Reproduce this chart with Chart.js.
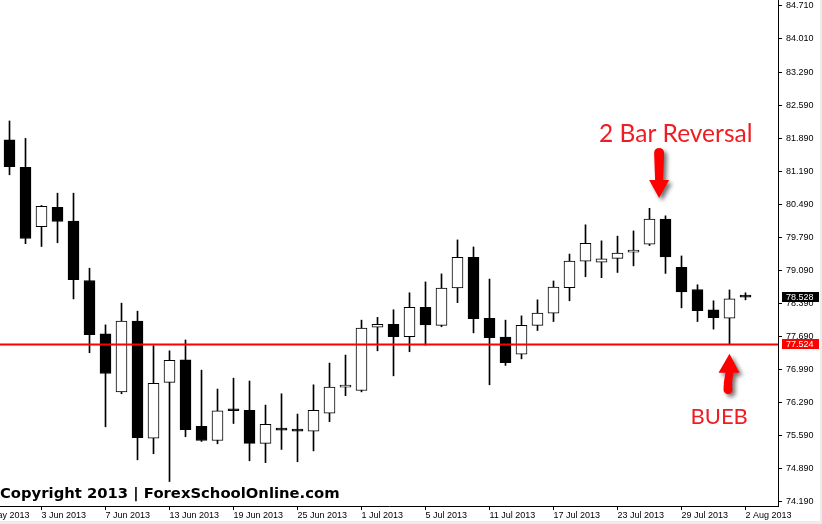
<!DOCTYPE html>
<html>
<head>
<meta charset="utf-8">
<script src="https://cdn.jsdelivr.net/npm/chart.js@4.4.0/dist/chart.umd.min.js"></script>
<style>
html,body{margin:0;padding:0;background:#ececec;}
#wrap{width:820px;height:521px;background:#fff;}
canvas{display:block;}
</style>
</head>
<body>
<div id="wrap"><canvas id="chart" width="820" height="521"></canvas></div>
<script>
// daily candles, 30 May - 2 Aug 2013
var dates=['30 May 2013','31 May 2013','3 Jun 2013','4 Jun 2013','5 Jun 2013','6 Jun 2013','7 Jun 2013',
'10 Jun 2013','11 Jun 2013','12 Jun 2013','13 Jun 2013','14 Jun 2013','17 Jun 2013','18 Jun 2013','19 Jun 2013',
'20 Jun 2013','21 Jun 2013','24 Jun 2013','25 Jun 2013','26 Jun 2013','27 Jun 2013','28 Jun 2013','1 Jul 2013',
'2 Jul 2013','3 Jul 2013','4 Jul 2013','5 Jul 2013','8 Jul 2013','9 Jul 2013','10 Jul 2013','11 Jul 2013',
'12 Jul 2013','15 Jul 2013','16 Jul 2013','17 Jul 2013','18 Jul 2013','19 Jul 2013','22 Jul 2013','23 Jul 2013',
'24 Jul 2013','25 Jul 2013','26 Jul 2013','29 Jul 2013','30 Jul 2013','31 Jul 2013','1 Aug 2013','2 Aug 2013'];
var opens=[81.86,81.28,80.02,80.43,80.14,78.88,77.75,76.52,78.02,75.54,76.72,77.20,75.79,75.49,76.13,76.13,75.43,
75.73,75.70,75.69,76.07,76.62,76.55,77.89,77.95,77.69,78.31,77.93,78.72,79.37,78.08,77.68,77.32,77.93,78.19,78.73,
79.29,79.27,79.35,79.48,79.65,80.18,79.16,78.69,78.26,78.08,78.53];
var highs=[82.26,81.89,80.47,80.73,80.73,79.14,77.94,78.40,78.23,77.50,77.39,77.62,76.98,76.58,76.81,76.75,76.24,
76.48,76.05,76.67,77.13,77.30,78.04,78.10,78.26,78.62,78.85,79.02,79.74,79.59,78.91,78.04,78.13,78.47,78.87,79.44,
80.06,79.72,79.82,79.93,80.41,80.25,79.40,78.79,78.45,78.68,78.62];
var lows=[81.12,79.66,79.60,79.68,78.49,77.35,75.78,76.48,75.08,75.21,74.62,75.57,75.47,75.42,75.85,75.06,75.02,
75.30,75.04,75.27,75.89,76.44,76.52,77.39,76.86,77.37,77.51,77.90,78.41,77.77,76.67,77.08,77.22,77.82,78.01,78.45,
78.96,78.94,79.05,79.19,79.62,79.03,78.30,78.01,77.85,77.524,78.47];
var closes=[81.29,79.77,80.45,80.13,78.90,77.73,76.91,78.02,75.55,76.70,77.19,75.72,75.49,76.12,76.12,75.43,75.83,
75.71,75.69,76.13,76.62,76.66,77.87,77.95,77.69,78.31,77.94,78.72,79.37,78.07,77.67,77.14,77.93,78.19,78.74,79.29,
79.67,79.34,79.46,79.48,80.18,79.38,78.64,78.24,78.09,78.49,78.528];

var priceTicks=[84.71,84.01,83.29,82.59,81.89,81.19,80.49,79.79,79.09,78.39,77.69,76.99,76.29,75.59,74.89,74.19];
// x tick positions (candle index) and their labels; the first one sits just off the left edge
var dateTicks=[-2,2,6,10,14,18,22,26,30,34,38,42,46];
var dateTickLabels=['28 May 2013','3 Jun 2013','7 Jun 2013','13 Jun 2013','19 Jun 2013','25 Jun 2013','1 Jul 2013',
'5 Jul 2013','11 Jul 2013','17 Jul 2013','23 Jul 2013','29 Jul 2013','2 Aug 2013'];
var supportLevel=77.524;
var lastPrice=78.528;

var xMin=-0.59375, xMax=48.03125;
var yMin=74.102, yMax=84.823;

// annotation anchors (candle index, price)
var reversalTip=[40.6,80.63];
var buebTip=[45,77.33];

var wicks=[], bodies=[], bodyFill=[];
for(var i=0;i<dates.length;i++){
	wicks.push({x:i, y:[lows[i], highs[i]]});
	bodies.push({x:i, y:[opens[i], closes[i]]});
	bodyFill.push(closes[i]>=opens[i] ? '#ffffff' : '#000000');
}

function priceBox(c, area, ys, val, bg){
	var y=Math.round(ys.getPixelForValue(val));
	c.fillStyle=bg;
	c.fillRect(area.right+4, y-5, 37, 10);
	c.fillStyle='#fff';
	c.font='9px "Liberation Sans"';
	c.textBaseline='middle';
	c.textAlign='left';
	c.fillText(val.toFixed(3), area.right+8, y+0.5);
}

function downArrow(c, tx, ty){
	c.beginPath();
	c.moveTo(tx-5, ty-45);
	c.arc(tx, ty-45, 5, Math.PI, 0);
	c.lineTo(tx+4, ty-18);
	c.lineTo(tx+10, ty-18);
	c.lineTo(tx, ty);
	c.lineTo(tx-10, ty-18);
	c.lineTo(tx-4, ty-18);
	c.closePath();
	c.fill();
}

function upArrow(c, tx, ty){
	c.beginPath();
	c.moveTo(tx, ty);
	c.lineTo(tx+10, ty+19);
	c.lineTo(tx+4, ty+19);
	c.quadraticCurveTo(tx+2, ty+29, tx+3, ty+36);
	c.arc(tx-1.5, ty+36, 4.5, 0, Math.PI);
	c.quadraticCurveTo(tx-6, ty+28, tx-4, ty+19);
	c.lineTo(tx-11, ty+19);
	c.closePath();
	c.fill();
}

var overlay={
	id:'overlay',
	afterDraw:function(chart){
		var c=chart.ctx, a=chart.chartArea, xs=chart.scales.x, ys=chart.scales.y;
		c.save();
		priceBox(c, a, ys, lastPrice, '#000000');
		priceBox(c, a, ys, supportLevel, '#ff0000');

		c.fillStyle='#000';
		c.font='bold 14.8px "DejaVu Sans"';
		c.textAlign='left';
		c.textBaseline='alphabetic';
		c.fillText('Copyright 2013 | ForexSchoolOnline.com', 0, 498);

		var t1x=xs.getPixelForValue(reversalTip[0]), t1y=ys.getPixelForValue(reversalTip[1]);
		var t2x=xs.getPixelForValue(buebTip[0]), t2y=ys.getPixelForValue(buebTip[1]);
		c.shadowColor='rgba(0,0,0,0.55)';
		c.shadowBlur=4;
		c.shadowOffsetX=3;
		c.shadowOffsetY=3;
		c.fillStyle='#ff0000';
		downArrow(c, t1x, t1y);
		upArrow(c, t2x, t2y);
		c.shadowColor='transparent';

		c.fillStyle='#ee1d23';
		c.font='24.5px Lato';
		c.fillText('2 Bar Reversal', t1x-60, t1y-56);
		c.font='22px Lato';
		c.fillText('BUEB', t2x-39, t2y+70);
		c.restore();
	}
};

var axisFont={family:'Liberation Sans', size:9};

new Chart(document.getElementById('chart'), {
	type:'bar',
	data:{datasets:[
		{type:'line', data:[{x:xMin,y:supportLevel},{x:xMax,y:supportLevel}], borderColor:'#ff0000', borderWidth:2, pointRadius:0, order:0},
		{data:bodies, backgroundColor:bodyFill, borderColor:'#000000', borderWidth:1, borderSkipped:false, barThickness:11, minBarLength:2, grouped:false, order:1},
		{data:wicks, backgroundColor:'#000000', borderWidth:0, barThickness:1, grouped:false, order:2}
	]},
	options:{
		responsive:false,
		animation:false,
		devicePixelRatio:1,
		layout:{padding:0},
		plugins:{legend:{display:false}, tooltip:{enabled:false}},
		scales:{
			x:{
				type:'linear', min:xMin, max:xMax, offset:false,
				afterBuildTicks:function(s){ s.ticks=dateTicks.map(function(v){ return {value:v}; }); },
				afterFit:function(s){ s.height=15; s.paddingLeft=0; s.paddingRight=0; },
				grid:{drawOnChartArea:false, offset:false, tickLength:4, color:'#000'},
				border:{color:'#000'},
				ticks:{align:'start', autoSkip:false, maxRotation:0, padding:0, color:'#000', font:axisFont,
					callback:function(v, idx){ return dateTickLabels[idx]; }}
			},
			y:{
				position:'right', min:yMin, max:yMax,
				afterBuildTicks:function(s){ s.ticks=priceTicks.map(function(v){ return {value:v}; }); },
				afterFit:function(s){ s.width=42; s.paddingTop=0; s.paddingBottom=0; },
				grid:{drawOnChartArea:false, tickLength:4, color:'#000'},
				border:{color:'#000'},
				ticks:{padding:4, color:'#000', font:axisFont,
					callback:function(v){ return v.toFixed(3); }}
			}
		}
	},
	plugins:[overlay]
});
</script>
</body>
</html>
